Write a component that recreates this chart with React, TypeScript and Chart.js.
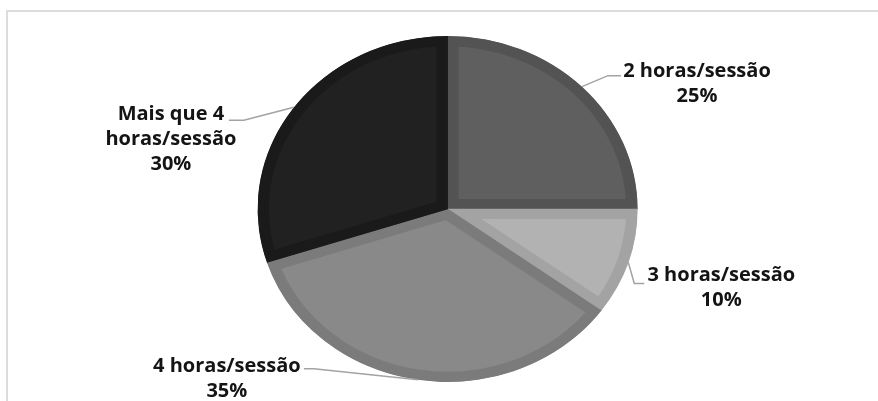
import React, { useEffect, useRef } from 'react';
import { Chart, registerables } from 'chart.js';

Chart.register(...registerables);

// ---- data ----
const categories = ['2 horas/sessão', '3 horas/sessão', '4 horas/sessão', 'Mais que 4 horas/sessão'];
const labelLines = [['2 horas/sessão'], ['3 horas/sessão'], ['4 horas/sessão'], ['Mais que 4', 'horas/sessão']];
const values = [25, 10, 35, 30];

// ---- styles ----
const fillColors = ['#5f5f5f', '#b2b2b2', '#898989', '#212121'];
const edgeColors = ['#535353', '#a3a3a3', '#7b7b7b', '#1a1a1a'];

// leader line / label layout (px, relative to the slice's outer mid point)
const leaderElbow = [[26, -11], [6, 21], [-104, -11], [-50, 13]];
const leaderTail = [13, 10, -10, -15];
const textOffset = [[76, -4], [77, -8], [-77, -3], [-58, -6]];
const LINE_HEIGHT = 25;
const Y_SCALE = 173 / 190;
const FONT = 'bold 20px "Open Sans"';

const ellipsePlugin = {
  id: 'ellipsePie',
  beforeDatasetsDraw(chart: any) {
    const arc = chart.getDatasetMeta(0).data[0];
    const ctx = chart.ctx;
    ctx.save();
    ctx.translate(arc.x, arc.y);
    ctx.scale(1, Y_SCALE);
    ctx.translate(-arc.x, -arc.y);
  },
  afterDatasetsDraw(chart: any) {
    const ctx = chart.ctx;
    ctx.restore();
    const meta = chart.getDatasetMeta(0);
    const total = values.reduce((a, b) => a + b, 0);
    ctx.save();
    ctx.font = FONT;
    ctx.textAlign = 'center';
    ctx.textBaseline = 'middle';
    meta.data.forEach((el: any, i: number) => {
      const { x, y, startAngle, endAngle, outerRadius } = el.getProps(
        ['x', 'y', 'startAngle', 'endAngle', 'outerRadius'],
        true
      );
      const mid = (startAngle + endAngle) / 2;
      const ex = x + outerRadius * Math.cos(mid);
      const ey = y + outerRadius * Y_SCALE * Math.sin(mid);
      const bx = ex + leaderElbow[i][0];
      const by = ey + leaderElbow[i][1];
      const tx = bx + leaderTail[i];
      ctx.strokeStyle = '#a3a3a3';
      ctx.lineWidth = 1.5;
      ctx.beginPath();
      ctx.moveTo(ex, ey);
      ctx.lineTo(bx, by);
      ctx.lineTo(tx, by);
      ctx.stroke();
      const cx = tx + textOffset[i][0];
      let cy = by + textOffset[i][1];
      const pct = Math.round((values[i] / total) * 100) + '%';
      const lines = [...labelLines[i], pct];
      ctx.fillStyle = '#141414';
      lines.forEach((t) => {
        ctx.fillText(t, cx, cy);
        cy += LINE_HEIGHT;
      });
    });
    ctx.restore();
  },
};

export default function App() {
  const ref = useRef<HTMLCanvasElement>(null);
  useEffect(() => {
    let chart: Chart | null = null;
    let cancelled = false;
    const build = () => {
      if (cancelled || !ref.current) return;
      chart = new Chart(ref.current, {
        type: 'pie',
        data: {
          labels: categories,
          datasets: [
            {
              data: values,
              backgroundColor: fillColors,
              borderColor: edgeColors,
              borderWidth: 11,
              borderAlign: 'inner',
              hoverOffset: 0,
              hoverBorderWidth: 11,
              offset: 0,
            } as any,
          ],
        },
        options: {
          animation: false,
          responsive: false,
          devicePixelRatio: 1,
          events: [],
          layout: { padding: { left: 257.6, right: 240.4, top: 19, bottom: 2 } },
          plugins: { legend: { display: false }, tooltip: { enabled: false } },
        },
        plugins: [ellipsePlugin],
      });
    };
    const fonts: any = (document as any).fonts;
    if (fonts && fonts.load) {
      fonts.load(FONT).then(build, build);
    } else {
      build();
    }
    return () => {
      cancelled = true;
      if (chart) chart.destroy();
    };
  }, []);
  return (
    <div style={{ position: 'fixed', left: 0, top: 0, width: 878, height: 401, background: '#fff', overflow: 'hidden' }}>
      <div
        style={{
          position: 'absolute',
          left: 6,
          top: 10,
          width: 900,
          height: 420,
          borderTop: '2px solid #dcdcdc',
          borderLeft: '2px solid #dcdcdc',
        }}
      />
      <canvas ref={ref} width={878} height={401} style={{ position: 'absolute', left: 0, top: 0, width: 878, height: 401 }} />
    </div>
  );
}
